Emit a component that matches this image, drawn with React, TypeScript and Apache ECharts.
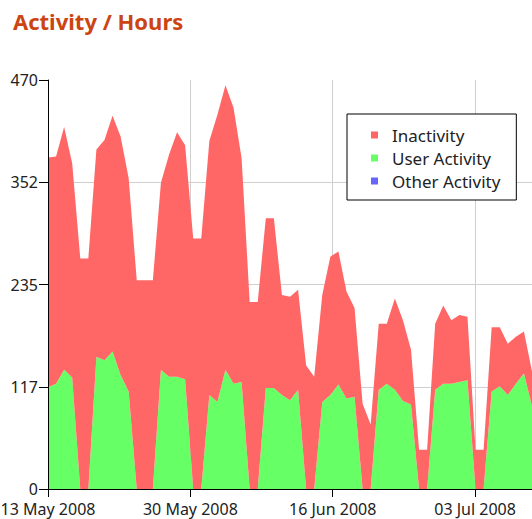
import React, { useEffect, useRef } from "react";
import * as echarts from "echarts";

const TITLE = "Activity / Hours";
const seriesNames = ["Inactivity", "User Activity", "Other Activity"];
const seriesColors = ["#ff6666", "#66ff66", "#6666ff"];

// x axis (days since 13 May 2008)
const dateLabels = ["13 May 2008", "30 May 2008", "16 Jun 2008", "03 Jul 2008"];
const dateDays = [0, 17, 34, 51];
const dayRange = 57.8;

// y axis
const yTickLabels = ["0", "117", "235", "352", "470"];
const yMax = 470;
const yStep = 117.5;

// sampled values (hours), one per sample
const inactivity = [
  264, 261, 279, 246, 265, 265, 238, 253, 271, 274,
  245, 240, 240, 240, 215, 255, 281, 269, 288, 288,
  292, 330, 327, 317, 257, 215, 215, 195, 195, 115,
  119, 115, 142, 129, 123, 159, 153, 123, 102, 98,
  74, 76, 69, 105, 93, 63, 45, 45, 76, 90,
  73, 77, 73, 45, 45, 74, 68, 59, 54, 48,
  40,
];
const userActivity = [
  117, 121, 137, 128, 0, 0, 152, 148, 158, 131,
  112, 0, 0, 0, 137, 129, 129, 126, 0, 0,
  108, 100, 137, 121, 123, 0, 0, 116, 116, 108,
  102, 114, 0, 0, 100, 108, 120, 104, 106, 0,
  0, 114, 121, 114, 101, 97, 0, 0, 114, 121,
  121, 123, 125, 0, 0, 112, 118, 108, 121, 133,
  95,
];
const otherActivity = [
  0, 0, 0, 0, 0, 0, 0, 0, 0, 0,
  0, 0, 0, 0, 0, 0, 0, 0, 0, 0,
  0, 0, 0, 0, 0, 0, 0, 0, 0, 0,
  0, 0, 0, 0, 0, 0, 0, 0, 0, 0,
  0, 0, 0, 0, 0, 0, 0, 0, 0, 0,
  0, 0, 0, 0, 0, 0, 0, 0, 0, 0,
  0,
];
const samples = inactivity.map((_, i) => String(i + 1));

const FONT = "Noto Sans";

export default function App() {
  const ref = useRef<HTMLDivElement>(null);
  useEffect(() => {
    if (!ref.current) return;
    const chart = echarts.init(ref.current, undefined, { renderer: "svg" });
    const dayLabel = (v: number) => {
      const i = dateDays.indexOf(Math.round(v));
      return i >= 0 && Math.abs(v - dateDays[i]) < 0.01 ? dateLabels[i] : "";
    };
    const area = (name: string, data: number[], color: string) => ({
      name,
      type: "line",
      xAxisIndex: 0,
      yAxisIndex: 0,
      stack: "total",
      data,
      symbol: "none",
      showSymbol: false,
      color,
      lineStyle: { width: 0, color },
      areaStyle: { color, opacity: 1 },
      z: 2,
    });
    chart.setOption({
      animation: false,
      backgroundColor: "#ffffff",
      title: {
        text: TITLE,
        left: 13,
        top: 10,
        padding: 0,
        textStyle: { color: "#cc4411", fontSize: 22, fontWeight: "bold", fontFamily: FONT },
      },
      legend: {
        data: seriesNames,
        orient: "vertical",
        left: 347,
        top: 114,
        backgroundColor: "#ffffff",
        borderColor: "#000000",
        borderWidth: 1,
        borderRadius: 0,
        padding: [10, 16, 8, 24],
        itemWidth: 7,
        itemHeight: 7,
        itemGap: 1,
        icon: "rect",
        selectedMode: false,
        textStyle: { fontSize: 17, fontFamily: FONT, color: "#222222", lineHeight: 22, padding: [0, 0, 0, 9] },
        z: 10,
      },
      grid: { left: 48, right: 0, top: 80, bottom: 30, containLabel: false, outerBoundsMode: "none" },
      xAxis: [
        { type: "category", data: samples, boundaryGap: false, show: false },
        {
          type: "value", min: 0, max: dayRange, interval: 17, position: "bottom", z: 0,
          axisLine: { show: false }, axisTick: { show: false }, axisLabel: { show: false },
          splitLine: { show: true, showMinLine: false, showMaxLine: false, lineStyle: { color: "#cfcfcf", width: 1 } },
        },
        {
          type: "value", min: 0, max: dayRange, interval: 17, position: "bottom", z: 5,
          axisLine: { show: true, lineStyle: { color: "#000000", width: 1 } },
          axisTick: { show: true, length: 8, customValues: dateDays, lineStyle: { color: "#000000" } },
          axisLabel: { show: true, customValues: dateDays, formatter: dayLabel, margin: 12, color: "#222222", fontSize: 16, fontFamily: FONT, hideOverlap: false },
          splitLine: { show: false },
        },
      ],
      yAxis: [
        {
          type: "value", min: 0, max: yMax, interval: yStep, position: "left", z: 0,
          axisLine: { show: false }, axisTick: { show: false }, axisLabel: { show: false },
          splitLine: { show: true, showMinLine: false, showMaxLine: false, lineStyle: { color: "#cfcfcf", width: 1 } },
        },
        {
          type: "value", min: 0, max: yMax, interval: yStep, position: "left", z: 5,
          axisLine: { show: true, lineStyle: { color: "#000000", width: 1 } },
          axisTick: { show: true, length: 9, lineStyle: { color: "#000000" } },
          axisLabel: {
            show: true, margin: 10, color: "#222222", fontSize: 16, fontFamily: FONT,
            formatter: (v: number) => yTickLabels[Math.round(v / yStep)] ?? "",
          },
          splitLine: { show: false },
        },
      ],
      series: [
        area(seriesNames[1], userActivity, seriesColors[1]),
        area(seriesNames[2], otherActivity, seriesColors[2]),
        area(seriesNames[0], inactivity, seriesColors[0]),
      ],
    });
    return () => chart.dispose();
  }, []);
  return (
    <div
      ref={ref}
      style={{ position: "absolute", left: 0, top: 0, width: 532, height: 519 }}
    />
  );
}
